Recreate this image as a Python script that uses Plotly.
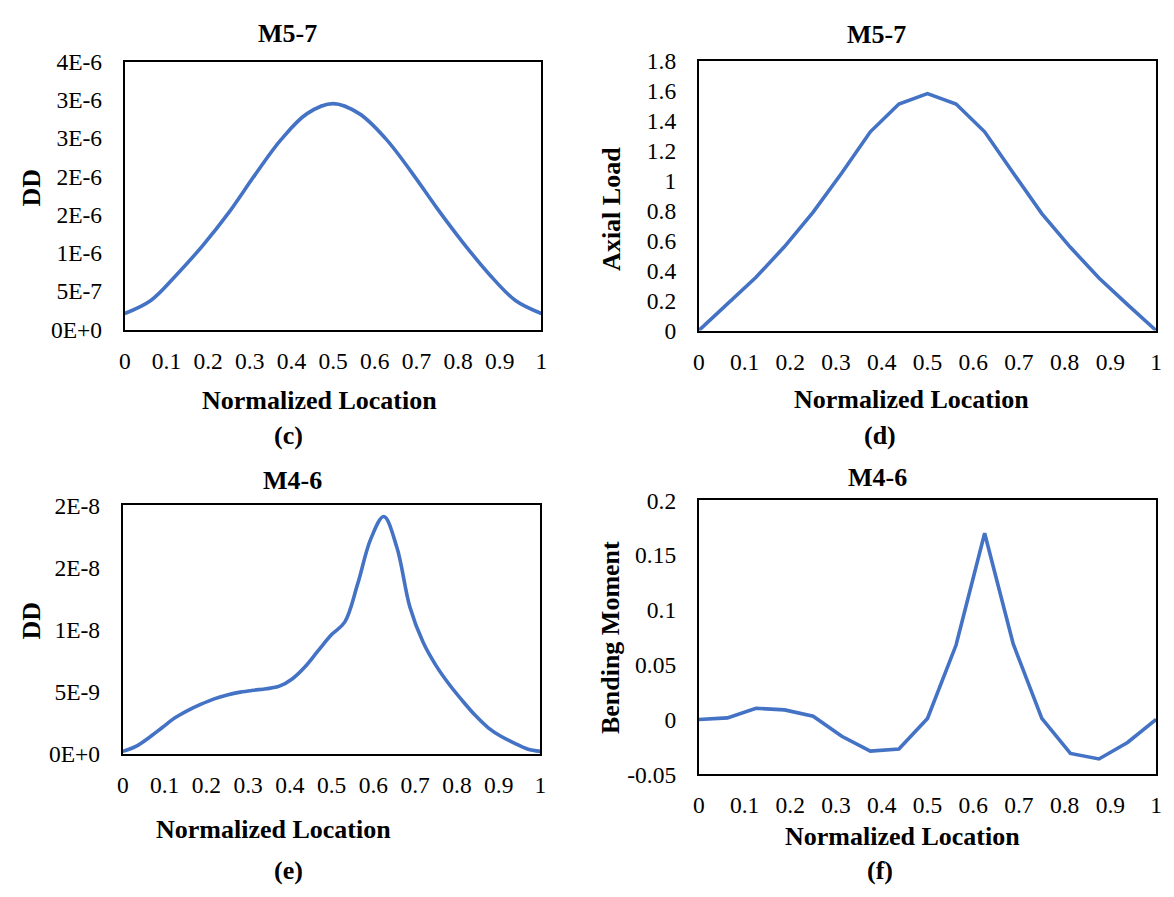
import plotly.graph_objects as go

# Normalized location along the member (17 stations)
location = [i / 16 for i in range(17)]
# finer stations used for the M4-6 damage indicator
location_fine = [i / 32 for i in range(33)]

# (c) M5-7 damage indicator
dd_m57 = [0.21e-6, 0.38e-6, 0.72e-6, 1.10e-6, 1.53e-6, 2.02e-6, 2.48e-6, 2.82e-6, 2.95e-6,
          2.82e-6, 2.50e-6, 2.06e-6, 1.58e-6, 1.13e-6, 0.72e-6, 0.38e-6, 0.21e-6]
# (d) M5-7 axial load
axial_m57 = [0, 0.175, 0.355, 0.56, 0.79, 1.05, 1.325, 1.51, 1.58,
             1.51, 1.325, 1.05, 0.78, 0.555, 0.35, 0.173, 0]
# (e) M4-6 damage indicator
dd_m46 = [0.02e-8, 0.06e-8, 0.13e-8, 0.21e-8, 0.29e-8, 0.35e-8, 0.40e-8, 0.443e-8,
          0.474e-8, 0.497e-8, 0.512e-8, 0.524e-8, 0.545e-8, 0.605e-8, 0.705e-8, 0.835e-8,
          0.96e-8, 1.06e-8, 1.37e-8, 1.73e-8, 1.91e-8, 1.66e-8, 1.18e-8, 0.90e-8,
          0.71e-8, 0.56e-8, 0.43e-8, 0.31e-8, 0.21e-8, 0.14e-8, 0.087e-8, 0.04e-8, 0.02e-8]
# (f) M4-6 bending moment
moment_m46 = [0, 0.0015, 0.0103, 0.0088, 0.003, -0.0153, -0.0288, -0.027, 0.001,
              0.068, 0.170, 0.069, 0.001, -0.031, -0.036, -0.021, 0]

x_ticks = [i / 10 for i in range(11)]
x_ticktext = ["0", "0.1", "0.2", "0.3", "0.4", "0.5", "0.6", "0.7", "0.8", "0.9", "1"]
c_ticks = [0, 5e-7, 1e-6, 1.5e-6, 2e-6, 2.5e-6, 3e-6, 3.5e-6]
c_ticktext = ["0E+0", "5E-7", "1E-6", "2E-6", "2E-6", "3E-6", "3E-6", "4E-6"]
d_ticks = [0, 0.2, 0.4, 0.6, 0.8, 1.0, 1.2, 1.4, 1.6, 1.8]
d_ticktext = ["0", "0.2", "0.4", "0.6", "0.8", "1", "1.2", "1.4", "1.6", "1.8"]
e_ticks = [0, 5e-9, 1e-8, 1.5e-8, 2e-8]
e_ticktext = ["0E+0", "5E-9", "1E-8", "2E-8", "2E-8"]
f_ticks = [-0.05, 0, 0.05, 0.1, 0.15, 0.2]
f_ticktext = ["-0.05", "0", "0.05", "0.1", "0.15", "0.2"]

W, H = 1174, 897
FONT = "Liberation Serif, Times New Roman, serif"
BLUE = "#4472C4"
TICK_SIZE = 23.5
LABEL_SIZE = 26


def px_x(v):
    return v / W


def px_y(v):
    return 1 - v / H


# plot boxes in pixels: (left, right, top, bottom)
boxes = {
    "c": (120, 541, 50, 326),
    "d": (700, 1162, 49, 327),
    "e": (118, 540, 507, 763),
    "f": (700, 1162, 502, 784),
}

fig = go.Figure()

panels = [
    ("c", location, dd_m57, "spline", [0, 3.5e-6], c_ticks, c_ticktext),
    ("d", location, axial_m57, "linear", [0, 1.8], d_ticks, d_ticktext),
    ("e", location_fine, dd_m46, "spline", [0, 2e-8], e_ticks, e_ticktext),
    ("f", location, moment_m46, "linear", [-0.05, 0.2], f_ticks, f_ticktext),
]

layout = dict(
    width=W, height=H,
    margin=dict(l=0, r=0, t=0, b=0),
    paper_bgcolor="white", plot_bgcolor="white",
    showlegend=False,
    font=dict(family=FONT, color="black", size=TICK_SIZE),
)

for i, (key, xs, values, shape, yrange, yt, ytt) in enumerate(panels, start=1):
    left, right, top, bottom = boxes[key]
    xa = "x" if i == 1 else f"x{i}"
    ya = "y" if i == 1 else f"y{i}"
    fig.add_trace(go.Scatter(
        x=xs, y=values, mode="lines",
        line=dict(color=BLUE, width=3.6, shape=shape),
        xaxis=xa, yaxis=ya, hoverinfo="skip",
    ))
    axis_common = dict(
        showline=True, mirror=True, linecolor="black", linewidth=2,
        showgrid=False, zeroline=False, ticks="",
        tickfont=dict(family=FONT, size=TICK_SIZE, color="black"),
    )
    layout["xaxis" if i == 1 else f"xaxis{i}"] = dict(
        domain=[px_x(left), px_x(right)], range=[0, 1],
        tickvals=x_ticks, ticktext=x_ticktext,
        anchor=ya, ticklabelstandoff=9, **axis_common,
    )
    layout["yaxis" if i == 1 else f"yaxis{i}"] = dict(
        domain=[px_y(bottom), px_y(top)], range=yrange,
        tickvals=yt, ticktext=ytt,
        anchor=xa, ticklabelstandoff=16, **axis_common,
    )

fig.update_layout(**layout)

bold = dict(family=FONT, size=LABEL_SIZE, color="black", weight="bold")

texts = [
    # panel titles
    ("M5-7", 284, 21, 0), ("M5-7", 879, 22, 0),
    ("M4-6", 289, 481, 0), ("M4-6", 881, 478, 0),
    # x-axis titles
    ("Normalized Location", 317, 399, 0), ("Normalized Location", 915, 398, 0),
    ("Normalized Location", 270, 841, 0), ("Normalized Location", 906, 848, 0),
    # y-axis titles
    ("DD", 26, 180, -90), ("Axial Load", 611, 202, -90),
    ("DD", 26, 626, -90), ("Bending Moment", 611, 643, -90),
    # sub-figure labels
    ("(c)", 285, 435, 0), ("(d)", 883, 435, 0),
    ("(e)", 285, 883, 0), ("(f)", 883, 883, 0),
]
for txt, cx, cy, ang in texts:
    fig.add_annotation(
        text=txt, x=px_x(cx), y=px_y(cy), xref="paper", yref="paper",
        xanchor="center", yanchor="middle", showarrow=False,
        textangle=ang, font=bold,
    )

fig.write_html("out.html")
